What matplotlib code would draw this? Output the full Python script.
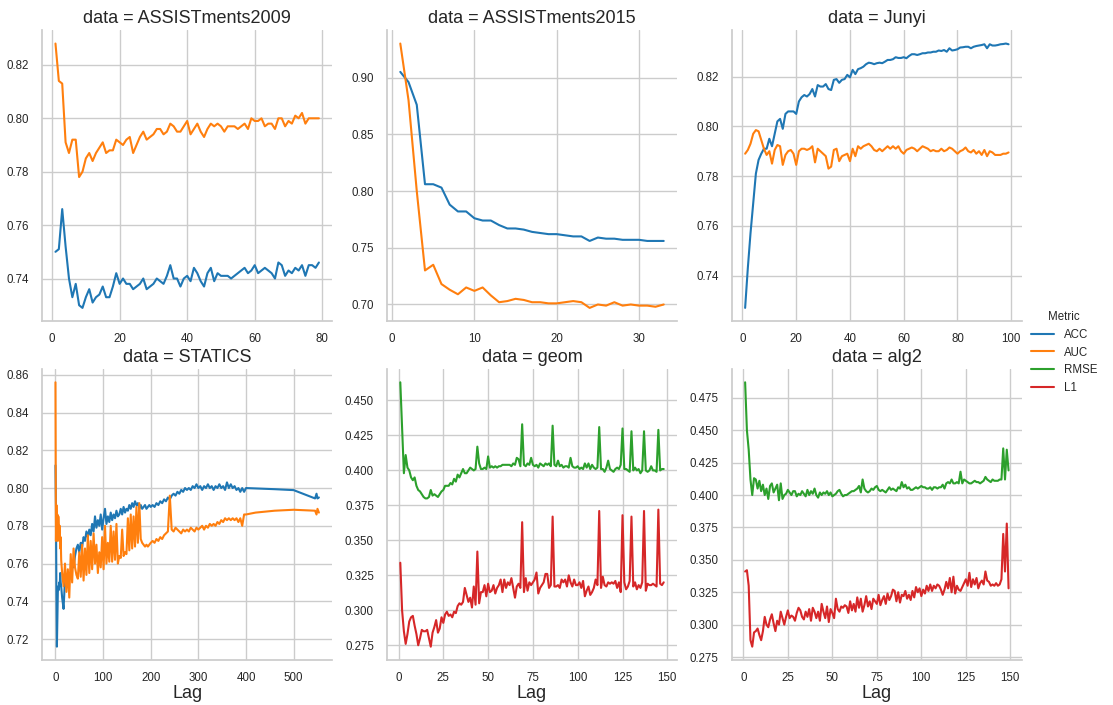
"""Lag curves of ACC / AUC / RMSE / L1 per dataset, one facet per dataset."""

import numpy as np
import pandas as pd
import matplotlib
matplotlib.use("Agg")
import matplotlib.pyplot as plt
from matplotlib.ticker import MultipleLocator
import seaborn as sns

# ---- per-lag metrics ----------------------------------------------------

asst09_acc = [
    0.750, 0.751, 0.766, 0.752, 0.740, 0.733, 0.738, 0.730, 0.729, 0.733,
    0.736, 0.731, 0.733, 0.734, 0.737, 0.733, 0.733, 0.737, 0.742, 0.738,
    0.740, 0.738, 0.738, 0.736, 0.737, 0.738, 0.740, 0.736, 0.737, 0.738,
    0.740, 0.739, 0.738, 0.741, 0.745, 0.740, 0.740, 0.737, 0.740, 0.741,
    0.739, 0.744, 0.742, 0.739, 0.737, 0.742, 0.744, 0.739, 0.742, 0.741,
    0.741, 0.741, 0.740, 0.741, 0.742, 0.743, 0.744, 0.742, 0.743, 0.745,
    0.742, 0.743, 0.744, 0.743, 0.742, 0.740, 0.746, 0.745, 0.741, 0.743,
    0.742, 0.744, 0.743, 0.745, 0.741, 0.745, 0.745, 0.744, 0.746]
asst09_auc = [
    0.828, 0.814, 0.813, 0.791, 0.787, 0.792, 0.792, 0.778, 0.780, 0.785,
    0.787, 0.784, 0.787, 0.789, 0.791, 0.787, 0.788, 0.788, 0.792, 0.791,
    0.790, 0.792, 0.793, 0.787, 0.790, 0.793, 0.795, 0.792, 0.793, 0.794,
    0.796, 0.796, 0.794, 0.795, 0.798, 0.797, 0.795, 0.795, 0.797, 0.799,
    0.794, 0.796, 0.798, 0.795, 0.793, 0.796, 0.798, 0.797, 0.798, 0.797,
    0.795, 0.797, 0.797, 0.797, 0.796, 0.797, 0.798, 0.796, 0.800, 0.799,
    0.799, 0.800, 0.797, 0.798, 0.798, 0.796, 0.800, 0.800, 0.797, 0.799,
    0.798, 0.801, 0.800, 0.802, 0.798, 0.800, 0.800, 0.800, 0.800]

asst15_acc = [
    0.905, 0.896, 0.876, 0.806, 0.806, 0.803, 0.788, 0.782, 0.782, 0.776,
    0.774, 0.774, 0.770, 0.767, 0.767, 0.766, 0.764, 0.763, 0.762, 0.762,
    0.761, 0.760, 0.760, 0.756, 0.759, 0.758, 0.758, 0.757, 0.757, 0.757,
    0.756, 0.756, 0.756]
asst15_auc = [
    0.930, 0.880, 0.800, 0.730, 0.735, 0.718, 0.713, 0.709, 0.715, 0.712,
    0.715, 0.708, 0.702, 0.703, 0.705, 0.704, 0.702, 0.702, 0.701, 0.701,
    0.702, 0.703, 0.702, 0.697, 0.700, 0.699, 0.702, 0.699, 0.700, 0.699,
    0.699, 0.698, 0.700]

junyi_acc = [
    0.727, 0.743, 0.757, 0.769, 0.781, 0.7865, 0.789, 0.791, 0.791, 0.795,
    0.792, 0.797, 0.802, 0.803, 0.799, 0.805, 0.806, 0.806, 0.806, 0.805,
    0.810, 0.8117, 0.8126, 0.812, 0.813, 0.815, 0.812, 0.8166, 0.816, 0.816,
    0.817, 0.815, 0.8146, 0.8187, 0.819, 0.8175, 0.8187, 0.819, 0.8207, 0.8197,
    0.8227, 0.821, 0.823, 0.8234, 0.824, 0.825, 0.8256, 0.8254, 0.825, 0.8254,
    0.8256, 0.8254, 0.826, 0.8267, 0.8267, 0.827, 0.8278, 0.8275, 0.8275, 0.8278,
    0.8274, 0.8283, 0.829, 0.829, 0.8287, 0.829, 0.8294, 0.8294, 0.8297, 0.8297,
    0.830, 0.830, 0.8305, 0.8303, 0.8307, 0.830, 0.8314, 0.8305, 0.8307, 0.831,
    0.8317, 0.8318, 0.832, 0.832, 0.8314, 0.832, 0.8323, 0.8325, 0.8327, 0.833,
    0.8314, 0.833, 0.8325, 0.8325, 0.8327, 0.833, 0.8331, 0.8333, 0.833]
junyi_auc = [
    0.789, 0.7905, 0.793, 0.797, 0.7985, 0.798, 0.7945, 0.791, 0.7885, 0.790,
    0.785, 0.7905, 0.7925, 0.792, 0.7845, 0.7885, 0.790, 0.7905, 0.789, 0.7845,
    0.790, 0.791, 0.791, 0.7905, 0.791, 0.792, 0.7855, 0.791, 0.790, 0.789,
    0.788, 0.783, 0.7838, 0.7905, 0.791, 0.786, 0.788, 0.7885, 0.789, 0.786,
    0.791, 0.788, 0.792, 0.791, 0.792, 0.7925, 0.793, 0.792, 0.7905, 0.790,
    0.791, 0.790, 0.791, 0.792, 0.791, 0.792, 0.791, 0.792, 0.790, 0.789,
    0.7905, 0.791, 0.7915, 0.791, 0.790, 0.791, 0.792, 0.7915, 0.791, 0.790,
    0.7905, 0.790, 0.790, 0.791, 0.790, 0.7905, 0.7915, 0.791, 0.790, 0.789,
    0.790, 0.7905, 0.7915, 0.790, 0.7895, 0.7905, 0.789, 0.790, 0.7885, 0.7905,
    0.788, 0.790, 0.7895, 0.7885, 0.7885, 0.7885, 0.789, 0.789, 0.7895]

# STATICS is logged densely at short lags and only sparsely past 400
statics_lag = np.r_[0:13, 14:201:3, 204:401:4, [420, 460, 500, 545, 548, 550, 553]]
statics_acc = [
    0.812, 0.790, 0.745, 0.716, 0.730, 0.745, 0.748, 0.746, 0.750, 0.748,
    0.755, 0.750, 0.748,
    # 14 .. 200 step 3
    0.742, 0.736, 0.752, 0.748, 0.752, 0.755, 0.753, 0.760, 0.758, 0.764,
    0.768, 0.770, 0.766, 0.771, 0.769, 0.774, 0.772, 0.777, 0.774, 0.778,
    0.775, 0.781, 0.777, 0.785, 0.779, 0.783, 0.780, 0.786, 0.778, 0.784,
    0.789, 0.781, 0.785, 0.782, 0.787, 0.783, 0.786, 0.784, 0.788, 0.785,
    0.786, 0.789, 0.786, 0.790, 0.787, 0.789, 0.788, 0.791, 0.789, 0.792,
    0.790, 0.793, 0.791, 0.792, 0.789, 0.791, 0.789, 0.790, 0.791, 0.789,
    0.790, 0.791, 0.790,
    # 204 .. 400 step 4
    0.791, 0.790, 0.792, 0.791, 0.793, 0.792, 0.794, 0.793, 0.795, 0.794,
    0.796, 0.797, 0.796, 0.798, 0.797, 0.799, 0.798, 0.800, 0.799, 0.800,
    0.799, 0.801, 0.800, 0.802, 0.800, 0.801, 0.799, 0.801, 0.800, 0.802,
    0.800, 0.801, 0.799, 0.801, 0.800, 0.802, 0.800, 0.801, 0.799, 0.803,
    0.800, 0.802, 0.800, 0.801, 0.799, 0.800, 0.798, 0.800, 0.798, 0.800,
    # sparse tail
    0.7998, 0.7994, 0.7989, 0.7945, 0.797, 0.7945, 0.795]
statics_auc = [
    0.856, 0.772, 0.791, 0.780, 0.786, 0.772, 0.785, 0.778, 0.773, 0.780,
    0.768, 0.774, 0.762,
    0.755, 0.748, 0.760, 0.745, 0.757, 0.742, 0.765, 0.750, 0.768, 0.758,
    0.754, 0.752, 0.766, 0.753, 0.770, 0.751, 0.768, 0.754, 0.775, 0.755,
    0.772, 0.757, 0.776, 0.760, 0.770, 0.755, 0.766, 0.758, 0.774, 0.757,
    0.780, 0.760, 0.771, 0.761, 0.780, 0.761, 0.777, 0.762, 0.781, 0.760,
    0.764, 0.763, 0.778, 0.764, 0.766, 0.765, 0.784, 0.767, 0.786, 0.768,
    0.785, 0.769, 0.790, 0.771, 0.792, 0.773, 0.771, 0.770, 0.769, 0.770,
    0.769, 0.770, 0.771,
    0.772, 0.771, 0.773, 0.772, 0.774, 0.773, 0.775, 0.776, 0.777, 0.796,
    0.778, 0.777, 0.779, 0.778, 0.777, 0.776, 0.778, 0.777, 0.778, 0.777,
    0.779, 0.778, 0.777, 0.779, 0.778, 0.779, 0.780, 0.778, 0.780, 0.779,
    0.781, 0.780, 0.781, 0.780, 0.782, 0.781, 0.783, 0.782, 0.784, 0.783,
    0.784, 0.783, 0.784, 0.783, 0.784, 0.782, 0.784, 0.780, 0.786, 0.786,
    0.787, 0.788, 0.7885, 0.788, 0.786, 0.789, 0.787]

geom_rmse = [
    0.463, 0.430, 0.398, 0.411, 0.402, 0.400, 0.395, 0.393, 0.395, 0.389,
    0.386, 0.385, 0.383, 0.381, 0.380, 0.380, 0.381, 0.386, 0.382, 0.383,
    0.382, 0.381, 0.383, 0.385, 0.386, 0.389, 0.389, 0.389, 0.391, 0.390,
    0.394, 0.392, 0.397, 0.395, 0.398, 0.401, 0.398, 0.398, 0.400, 0.402,
    0.401, 0.400, 0.401, 0.417, 0.405, 0.401, 0.401, 0.402, 0.401, 0.410,
    0.402, 0.403, 0.402, 0.403, 0.402, 0.403, 0.403, 0.404, 0.404, 0.404,
    0.404, 0.404, 0.403, 0.405, 0.404, 0.409, 0.408, 0.403, 0.433, 0.404,
    0.403, 0.405, 0.404, 0.409, 0.404, 0.403, 0.404, 0.402, 0.405, 0.404,
    0.403, 0.405, 0.404, 0.405, 0.403, 0.432, 0.404, 0.403, 0.407, 0.403,
    0.404, 0.402, 0.403, 0.403, 0.402, 0.409, 0.403, 0.402, 0.402, 0.403,
    0.401, 0.402, 0.401, 0.405, 0.402, 0.405, 0.401, 0.404, 0.402, 0.401,
    0.402, 0.431, 0.401, 0.401, 0.399, 0.402, 0.407, 0.401, 0.400, 0.399,
    0.401, 0.402, 0.401, 0.404, 0.430, 0.401, 0.401, 0.400, 0.399, 0.428,
    0.400, 0.402, 0.400, 0.401, 0.398, 0.400, 0.428, 0.400, 0.399, 0.400,
    0.403, 0.400, 0.400, 0.399, 0.429, 0.400, 0.401, 0.401]
geom_l1 = [
    0.334, 0.300, 0.285, 0.276, 0.283, 0.292, 0.295, 0.296, 0.289, 0.283,
    0.275, 0.280, 0.286, 0.285, 0.285, 0.286, 0.280, 0.274, 0.284, 0.288,
    0.293, 0.284, 0.287, 0.295, 0.291, 0.297, 0.299, 0.296, 0.297, 0.295,
    0.299, 0.298, 0.303, 0.305, 0.304, 0.306, 0.316, 0.311, 0.306, 0.309,
    0.302, 0.317, 0.304, 0.342, 0.305, 0.313, 0.313, 0.318, 0.310, 0.319,
    0.313, 0.314, 0.318, 0.312, 0.316, 0.318, 0.322, 0.313, 0.322, 0.316,
    0.320, 0.318, 0.323, 0.316, 0.309, 0.317, 0.319, 0.316, 0.363, 0.313,
    0.323, 0.314, 0.320, 0.318, 0.320, 0.322, 0.327, 0.312, 0.316, 0.318,
    0.320, 0.326, 0.326, 0.316, 0.318, 0.367, 0.317, 0.317, 0.318, 0.316,
    0.322, 0.320, 0.322, 0.317, 0.325, 0.320, 0.317, 0.322, 0.318, 0.318,
    0.320, 0.316, 0.321, 0.310, 0.314, 0.317, 0.311, 0.313, 0.316, 0.322,
    0.318, 0.371, 0.316, 0.324, 0.318, 0.317, 0.320, 0.319, 0.320, 0.319,
    0.321, 0.316, 0.320, 0.313, 0.368, 0.320, 0.315, 0.317, 0.321, 0.367,
    0.317, 0.320, 0.315, 0.318, 0.316, 0.320, 0.371, 0.314, 0.319, 0.318,
    0.318, 0.319, 0.318, 0.317, 0.372, 0.319, 0.318, 0.320]

alg2_rmse = [
    0.487, 0.450, 0.435, 0.412, 0.400, 0.413, 0.412, 0.405, 0.411, 0.403,
    0.408, 0.400, 0.405, 0.397, 0.407, 0.409, 0.402, 0.405, 0.408, 0.396,
    0.409, 0.397, 0.400, 0.401, 0.404, 0.402, 0.400, 0.403, 0.403, 0.399,
    0.401, 0.400, 0.403, 0.401, 0.399, 0.404, 0.400, 0.403, 0.401, 0.405,
    0.400, 0.398, 0.402, 0.400, 0.402, 0.401, 0.403, 0.400, 0.402, 0.399,
    0.400, 0.401, 0.403, 0.404, 0.401, 0.399, 0.400, 0.400, 0.401, 0.402,
    0.403, 0.403, 0.404, 0.405, 0.407, 0.402, 0.412, 0.405, 0.403, 0.402,
    0.403, 0.405, 0.404, 0.406, 0.407, 0.404, 0.403, 0.404, 0.403, 0.402,
    0.404, 0.406, 0.404, 0.405, 0.404, 0.403, 0.406, 0.405, 0.410, 0.406,
    0.408, 0.405, 0.406, 0.404, 0.404, 0.405, 0.406, 0.405, 0.406, 0.407,
    0.406, 0.406, 0.405, 0.405, 0.406, 0.404, 0.406, 0.406, 0.405, 0.406,
    0.406, 0.408, 0.405, 0.409, 0.410, 0.409, 0.412, 0.409, 0.409, 0.410,
    0.409, 0.418, 0.409, 0.412, 0.411, 0.410, 0.409, 0.409, 0.410, 0.411,
    0.410, 0.410, 0.409, 0.410, 0.411, 0.414, 0.412, 0.411, 0.410, 0.412,
    0.411, 0.411, 0.411, 0.412, 0.412, 0.436, 0.412, 0.435, 0.419]
alg2_l1 = [
    0.341, 0.342, 0.330, 0.288, 0.283, 0.294, 0.295, 0.297, 0.292, 0.288,
    0.295, 0.306, 0.300, 0.298, 0.304, 0.308, 0.301, 0.295, 0.303, 0.300,
    0.310, 0.305, 0.300, 0.306, 0.311, 0.305, 0.307, 0.306, 0.303, 0.309,
    0.313, 0.311, 0.306, 0.304, 0.310, 0.306, 0.312, 0.303, 0.313, 0.310,
    0.305, 0.310, 0.303, 0.316, 0.310, 0.305, 0.314, 0.302, 0.312, 0.309,
    0.305, 0.320, 0.312, 0.310, 0.314, 0.313, 0.315, 0.314, 0.309, 0.318,
    0.311, 0.316, 0.310, 0.321, 0.313, 0.320, 0.310, 0.315, 0.322, 0.314,
    0.318, 0.312, 0.320, 0.318, 0.316, 0.323, 0.315, 0.319, 0.322, 0.316,
    0.324, 0.319, 0.322, 0.327, 0.326, 0.318, 0.325, 0.317, 0.323, 0.322,
    0.326, 0.320, 0.323, 0.319, 0.326, 0.321, 0.329, 0.325, 0.328, 0.322,
    0.327, 0.324, 0.330, 0.326, 0.331, 0.326, 0.330, 0.328, 0.331, 0.330,
    0.327, 0.323, 0.327, 0.333, 0.328, 0.336, 0.325, 0.337, 0.324, 0.330,
    0.327, 0.326, 0.329, 0.332, 0.335, 0.330, 0.340, 0.329, 0.335, 0.331,
    0.336, 0.328, 0.332, 0.334, 0.331, 0.341, 0.334, 0.333, 0.330, 0.331,
    0.330, 0.332, 0.330, 0.331, 0.335, 0.370, 0.341, 0.378, 0.328]

datasets = ["ASSISTments2009", "ASSISTments2015", "Junyi", "STATICS", "geom", "alg2"]
metrics = ["ACC", "AUC", "RMSE", "L1"]
lag_steps = {"ASSISTments2009": 20, "ASSISTments2015": 10, "Junyi": 20,
             "STATICS": 100, "geom": 25, "alg2": 25}


def frame(name, metric, values, lags=None):
    if lags is None:
        lags = np.arange(1, len(values) + 1)
    return pd.DataFrame({"data": name, "Metric": metric,
                         "Lag": lags, "value": values})


df = pd.concat([
    frame("ASSISTments2009", "ACC", asst09_acc),
    frame("ASSISTments2009", "AUC", asst09_auc),
    frame("ASSISTments2015", "ACC", asst15_acc),
    frame("ASSISTments2015", "AUC", asst15_auc),
    frame("Junyi", "ACC", junyi_acc),
    frame("Junyi", "AUC", junyi_auc),
    frame("STATICS", "ACC", statics_acc, statics_lag),
    frame("STATICS", "AUC", statics_auc, statics_lag),
    frame("geom", "RMSE", geom_rmse),
    frame("geom", "L1", geom_l1),
    frame("alg2", "RMSE", alg2_rmse),
    frame("alg2", "L1", alg2_l1),
], ignore_index=True)

sns.set_theme(style="whitegrid")
plt.rcParams["font.family"] = ["Liberation Sans", "DejaVu Sans"]
plt.rcParams["axes.titlesize"] = 13
plt.rcParams["axes.titlepad"] = 5
plt.rcParams["axes.labelsize"] = 13
plt.rcParams["axes.labelpad"] = 1
plt.rcParams["xtick.labelsize"] = 8.3
plt.rcParams["ytick.labelsize"] = 8.3
plt.rcParams["xtick.major.pad"] = 2.5
plt.rcParams["legend.fontsize"] = 8.3
plt.rcParams["legend.title_fontsize"] = 8.3

g = sns.relplot(data=df, x="Lag", y="value", hue="Metric", hue_order=metrics,
                col="data", col_order=datasets, col_wrap=3, kind="line",
                palette="tab10", height=3.3, aspect=1.0,
                facet_kws=dict(sharex=False, sharey=False))
g.set_axis_labels("Lag", "")
g.set_titles("{col_var} = {col_name}")
for name, ax in g.axes_dict.items():
    ax.xaxis.set_major_locator(MultipleLocator(lag_steps[name]))

fig = g.figure
fig.set_size_inches(11.13, 7.05)
fig.subplots_adjust(left=0.038, right=0.918, bottom=0.064, top=0.957,
                    wspace=0.19, hspace=0.165)
sns.move_legend(g, "center right", bbox_to_anchor=(0.995, 0.5), frameon=False)

fig.savefig("out.png", dpi=100)
